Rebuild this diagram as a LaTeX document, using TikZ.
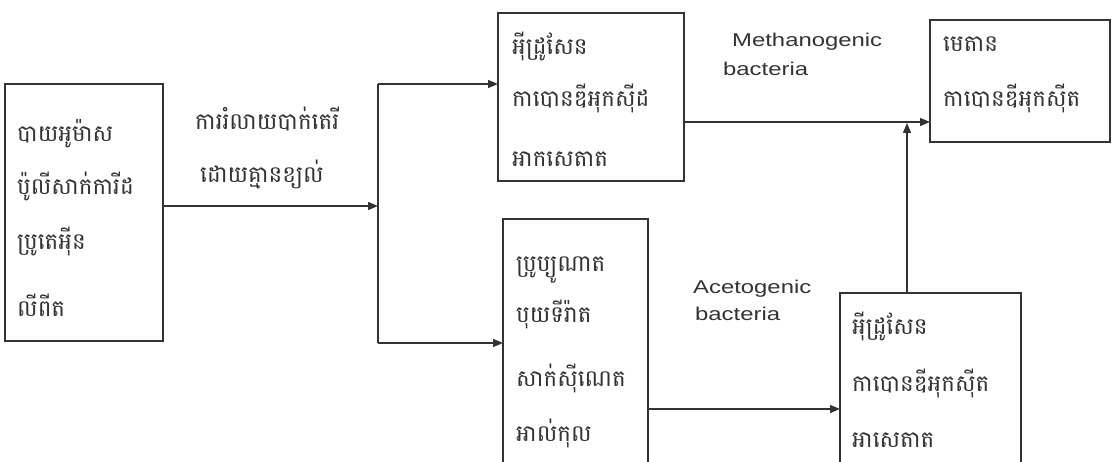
\documentclass[tikz,border=0pt]{standalone}
\usepackage{fontspec}
\setmainfont{Liberation Sans}[FakeStretch=1.29]
\newfontfamily\kh[Script=Khmer]{Battambang}
\usetikzlibrary{arrows.meta}
\definecolor{ink}{HTML}{333333}
\tikzset{
  box/.style={draw=ink,line width=1.3pt,fill=none},
  kt/.style={anchor=base west,inner sep=0pt,text=ink,font=\kh\fontsize{23}{25}\selectfont},
  lt/.style={anchor=base west,inner sep=0pt,text=ink,font=\fontsize{18.5}{20}\selectfont},
  conn/.style={draw=ink,line width=1.3pt},
  arr/.style={conn,-{Triangle[length=10pt,width=8pt]}}
}
\begin{document}
\begin{tikzpicture}[x=1pt,y=-1pt]
\clip (0,0) rectangle (1112,462);
\fill[white] (0,0) rectangle (1112,462);
% boxes
\draw[box] (5,84) rectangle (163,341);
\path (163,206) coordinate (b1e);
\draw[box] (498,13) rectangle (684,181);
\path (498,84) coordinate (b2w) (684,122) coordinate (b2e);
\draw[box] (503,219) rectangle (648,480);
\path (503,343) coordinate (b3w) (648,409) coordinate (b3e);
\draw[box] (930,20) rectangle (1110,142);
\path (930,122) coordinate (b4w);
\draw[box] (840,293) rectangle (1021,480);
\path (840,409) coordinate (b5w) (907,293) coordinate (b5n);
% junctions
\coordinate (j) at (378,206);
\coordinate (jt) at (378,84);
\coordinate (jb) at (378,343);
\coordinate (m) at (907,123);
% connectors
\draw[arr] (b1e) -- (j);
\draw[conn] (jt) -- (jb);
\draw[arr] (jt) -- (b2w);
\draw[arr] (jb) -- (b3w);
\draw[arr] (b2e) -- (b4w);
\draw[arr] (b5n) -- (m);
\draw[arr] (b3e) -- (b5w);
% box 1 text
\node[kt] (t11) at (17,142) {បាយអូម៉ាស};
\node[kt] (t12) at (17,195) {ប៉ូលីសាក់ការីដ};
\node[kt] (t13) at (17,250) {ប្រូតេអុីន};
\node[kt] (t14) at (17,317) {លីពីត};
% label
\node[kt] (l1) at (195,130) {ការរំលាយបាក់តេរី};
\node[kt] (l2) at (200,183) {ដោយគ្មានខ្យល់};
% box 2 text
\node[kt] (t21) at (512,55) {អុីដ្រូសែន};
\node[kt] (t22) at (512,107) {កាបោនឌីអុកសុីដ};
\node[kt] (t23) at (512,167) {អាកសេតាត};
% box 3 text
\node[kt] (t31) at (516,272) {ប្រូប្យូណាត};
\node[kt] (t32) at (516,323) {បុយទីរ៉ាត};
\node[kt] (t33) at (516,387) {សាក់សុីណេត};
\node[kt] (t34) at (516,442) {អាល់កុល};
% box 4 text
\node[kt] (t41) at (943,52) {មេតាន};
\node[kt] (t42) at (943,107) {កាបោនឌីអុកសុីត};
% box 5 text
\node[kt] (t51) at (852,335) {អុីដ្រូសែន};
\node[kt] (t52) at (852,392) {កាបោនឌីអុកសុីត};
\node[kt] (t53) at (852,448) {អាសេតាត};
% bacteria labels
\node[lt] (mb1) at (732,47) {Methanogenic};
\node[lt] (mb2) at (723,76) {bacteria};
\node[lt] (ab1) at (693,294) {Acetogenic};
\node[lt] (ab2) at (695,321) {bacteria};
\end{tikzpicture}
\end{document}
